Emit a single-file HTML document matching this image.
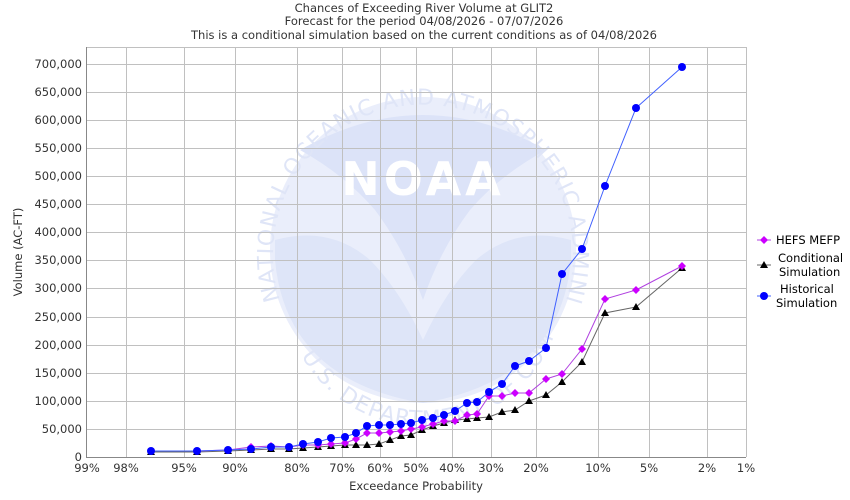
<!DOCTYPE html>
<html><head><meta charset="utf-8"><style>
body{margin:0;background:#fff;}
svg{display:block;font-family:"DejaVu Sans","Liberation Sans",sans-serif;}
</style></head><body>
<svg width="850" height="500" viewBox="0 0 850 500">
<rect width="850" height="500" fill="#fff"/>
<g>
<circle cx="423" cy="250" r="153" fill="#eaeefb"/>
<path d="M300,150 Q423,80 546,150 Q500,175 470,210 Q440,250 423,300 Q405,250 375,210 Q345,175 300,150Z" fill="#dce3f8"/>
<path d="M275,240 Q330,225 370,260 Q400,290 423,340 Q446,290 476,260 Q516,225 571,240 L571,260 Q560,380 423,403 Q286,380 275,260Z" fill="#dee5f8"/>
<text x="423" y="195" text-anchor="middle" font-size="46" font-weight="bold" fill="#fff" letter-spacing="4">NOAA</text>
<defs><path id="ring" d="M280,300 A150,150 0 1 1 566,300"/><path id="ring2" d="M290,330 A140,140 0 0 0 556,330"/></defs>
<text font-size="22" fill="#dfe5f7" letter-spacing="1"><textPath href="#ring">NATIONAL OCEANIC AND ATMOSPHERIC ADMINISTRATION</textPath></text>
<text font-size="22" fill="#dfe5f7" letter-spacing="1"><textPath href="#ring2" startOffset="8%">U.S. DEPARTMENT OF COMMERCE</textPath></text>
</g>
<g stroke="#c0c0c0" stroke-width="1">
<line x1="87" y1="64.5" x2="746" y2="64.5"/><line x1="87" y1="92.5" x2="746" y2="92.5"/><line x1="87" y1="120.5" x2="746" y2="120.5"/><line x1="87" y1="148.5" x2="746" y2="148.5"/><line x1="87" y1="176.5" x2="746" y2="176.5"/><line x1="87" y1="204.5" x2="746" y2="204.5"/><line x1="87" y1="232.5" x2="746" y2="232.5"/><line x1="87" y1="260.5" x2="746" y2="260.5"/><line x1="87" y1="288.5" x2="746" y2="288.5"/><line x1="87" y1="317.5" x2="746" y2="317.5"/><line x1="87" y1="345.5" x2="746" y2="345.5"/><line x1="87" y1="373.5" x2="746" y2="373.5"/><line x1="87" y1="401.5" x2="746" y2="401.5"/><line x1="87" y1="429.5" x2="746" y2="429.5"/>
<line x1="126.5" y1="47" x2="126.5" y2="457"/><line x1="184.5" y1="47" x2="184.5" y2="457"/><line x1="235.5" y1="47" x2="235.5" y2="457"/><line x1="297.5" y1="47" x2="297.5" y2="457"/><line x1="342.5" y1="47" x2="342.5" y2="457"/><line x1="380.5" y1="47" x2="380.5" y2="457"/><line x1="416.5" y1="47" x2="416.5" y2="457"/><line x1="452.5" y1="47" x2="452.5" y2="457"/><line x1="491.5" y1="47" x2="491.5" y2="457"/><line x1="536.5" y1="47" x2="536.5" y2="457"/><line x1="598.5" y1="47" x2="598.5" y2="457"/><line x1="649.5" y1="47" x2="649.5" y2="457"/><line x1="707.5" y1="47" x2="707.5" y2="457"/>
<line x1="87" y1="47.5" x2="746" y2="47.5"/><line x1="746.5" y1="47" x2="746.5" y2="457"/>
</g>
<g stroke="#888" stroke-width="1"><line x1="86.5" y1="47" x2="86.5" y2="458"/><line x1="86" y1="457.5" x2="746" y2="457.5"/></g>
<g font-size="11.5" fill="#333" text-anchor="end">
<text x="82" y="68">700,000</text><text x="82" y="96">650,000</text><text x="82" y="124">600,000</text><text x="82" y="152">550,000</text><text x="82" y="180">500,000</text><text x="82" y="208">450,000</text><text x="82" y="236">400,000</text><text x="82" y="264">350,000</text><text x="82" y="292">300,000</text><text x="82" y="321">250,000</text><text x="82" y="349">200,000</text><text x="82" y="377">150,000</text><text x="82" y="405">100,000</text><text x="82" y="433">50,000</text><text x="82" y="461">0</text>
</g>
<g font-size="11.5" fill="#333" text-anchor="middle">
<text x="87" y="472">99%</text><text x="126" y="472">98%</text><text x="184" y="472">95%</text><text x="235" y="472">90%</text><text x="297" y="472">80%</text><text x="342" y="472">70%</text><text x="380" y="472">60%</text><text x="416" y="472">50%</text><text x="452" y="472">40%</text><text x="491" y="472">30%</text><text x="536" y="472">20%</text><text x="598" y="472">10%</text><text x="649" y="472">5%</text><text x="707" y="472">2%</text><text x="746" y="472">1%</text>
<text x="416" y="490">Exceedance Probability</text>
<text x="424" y="12">Chances of Exceeding River Volume at GLIT2</text>
<text x="424" y="25">Forecast for the period 04/08/2026 - 07/07/2026</text>
<text x="424" y="39">This is a conditional simulation based on the current conditions as of 04/08/2026</text>
<text transform="translate(22,252) rotate(-90)">Volume (AC-FT)</text>
</g>
<polyline fill="none" stroke="#666" stroke-width="1" points="151,452 197,452 228,451 251,450 271,449 289,449 303,448 318,447 331,446 345,445 356,445 367,445 379,444 390,440 401,436 411,435 422,430 433,426 444,423 455,420 467,419 477,418 489,417 502,412 515,410 529,401 546,395 562,382 582,362 605,313 636,307 682,268"/>
<polyline fill="none" stroke="#b040e0" stroke-width="1" points="151,451 197,451 228,450 251,447 271,446 289,447 303,445 318,445 331,444 345,443 356,439 367,433 379,433 390,432 401,431 411,429 422,427 433,424 444,421 455,421 467,415 477,414 489,396 502,396 515,393 529,393 546,379 562,374 582,349 605,299 636,290 682,266"/>
<polyline fill="none" stroke="#4060ff" stroke-width="1" points="151,451 197,451 228,450 251,449 271,447 289,447 303,444 318,442 331,438 345,437 356,433 367,426 379,425 390,425 401,424 411,423 422,420 433,418 444,415 455,411 467,403 477,402 489,392 502,384 515,366 529,361 546,348 562,274 582,249 605,186 636,108 682,67"/>
<g fill="#000">
<path d="M151,448l4,7h-8z M197,448l4,7h-8z M228,447l4,7h-8z M251,446l4,7h-8z M271,445l4,7h-8z M289,445l4,7h-8z M303,444l4,7h-8z M318,443l4,7h-8z M331,442l4,7h-8z M345,441l4,7h-8z M356,441l4,7h-8z M367,441l4,7h-8z M379,440l4,7h-8z M390,436l4,7h-8z M401,432l4,7h-8z M411,431l4,7h-8z M422,426l4,7h-8z M433,422l4,7h-8z M444,419l4,7h-8z M455,416l4,7h-8z M467,415l4,7h-8z M477,414l4,7h-8z M489,413l4,7h-8z M502,408l4,7h-8z M515,406l4,7h-8z M529,397l4,7h-8z M546,391l4,7h-8z M562,378l4,7h-8z M582,358l4,7h-8z M605,309l4,7h-8z M636,303l4,7h-8z M682,264l4,7h-8z"/>
</g>
<g fill="#cc00ff">
<path d="M151,447l4,4l-4,4l-4,-4z M197,447l4,4l-4,4l-4,-4z M228,446l4,4l-4,4l-4,-4z M251,443l4,4l-4,4l-4,-4z M271,442l4,4l-4,4l-4,-4z M289,443l4,4l-4,4l-4,-4z M303,441l4,4l-4,4l-4,-4z M318,441l4,4l-4,4l-4,-4z M331,440l4,4l-4,4l-4,-4z M345,439l4,4l-4,4l-4,-4z M356,435l4,4l-4,4l-4,-4z M367,429l4,4l-4,4l-4,-4z M379,429l4,4l-4,4l-4,-4z M390,428l4,4l-4,4l-4,-4z M401,427l4,4l-4,4l-4,-4z M411,425l4,4l-4,4l-4,-4z M422,423l4,4l-4,4l-4,-4z M433,420l4,4l-4,4l-4,-4z M444,417l4,4l-4,4l-4,-4z M455,417l4,4l-4,4l-4,-4z M467,411l4,4l-4,4l-4,-4z M477,410l4,4l-4,4l-4,-4z M489,392l4,4l-4,4l-4,-4z M502,392l4,4l-4,4l-4,-4z M515,389l4,4l-4,4l-4,-4z M529,389l4,4l-4,4l-4,-4z M546,375l4,4l-4,4l-4,-4z M562,370l4,4l-4,4l-4,-4z M582,345l4,4l-4,4l-4,-4z M605,295l4,4l-4,4l-4,-4z M636,286l4,4l-4,4l-4,-4z M682,262l4,4l-4,4l-4,-4z"/>
</g>
<g fill="#0000ff">
<circle cx="151" cy="451" r="4"/><circle cx="197" cy="451" r="4"/><circle cx="228" cy="450" r="4"/><circle cx="251" cy="449" r="4"/><circle cx="271" cy="447" r="4"/><circle cx="289" cy="447" r="4"/><circle cx="303" cy="444" r="4"/><circle cx="318" cy="442" r="4"/><circle cx="331" cy="438" r="4"/><circle cx="345" cy="437" r="4"/><circle cx="356" cy="433" r="4"/><circle cx="367" cy="426" r="4"/><circle cx="379" cy="425" r="4"/><circle cx="390" cy="425" r="4"/><circle cx="401" cy="424" r="4"/><circle cx="411" cy="423" r="4"/><circle cx="422" cy="420" r="4"/><circle cx="433" cy="418" r="4"/><circle cx="444" cy="415" r="4"/><circle cx="455" cy="411" r="4"/><circle cx="467" cy="403" r="4"/><circle cx="477" cy="402" r="4"/><circle cx="489" cy="392" r="4"/><circle cx="502" cy="384" r="4"/><circle cx="515" cy="366" r="4"/><circle cx="529" cy="361" r="4"/><circle cx="546" cy="348" r="4"/><circle cx="562" cy="274" r="4"/><circle cx="582" cy="249" r="4"/><circle cx="605" cy="186" r="4"/><circle cx="636" cy="108" r="4"/><circle cx="682" cy="67" r="4"/>
</g>
<g font-size="11.5" fill="#000">
<line x1="757" y1="240" x2="771" y2="240" stroke="#b040e0"/><path d="M764,236l4,4l-4,4l-4,-4z" fill="#cc00ff"/>
<text x="776" y="244">HEFS MEFP</text>
<line x1="757" y1="265" x2="771" y2="265" stroke="#666"/><path d="M764,261l4,7h-8z" fill="#000"/>
<text x="778" y="262">Conditional</text><text x="779" y="276">Simulation</text>
<line x1="757" y1="296" x2="771" y2="296" stroke="#4060ff"/><circle cx="764" cy="296" r="4" fill="#0000ff"/>
<text x="780" y="293">Historical</text><text x="776" y="307">Simulation</text>
</g>
</svg>
</body></html>
